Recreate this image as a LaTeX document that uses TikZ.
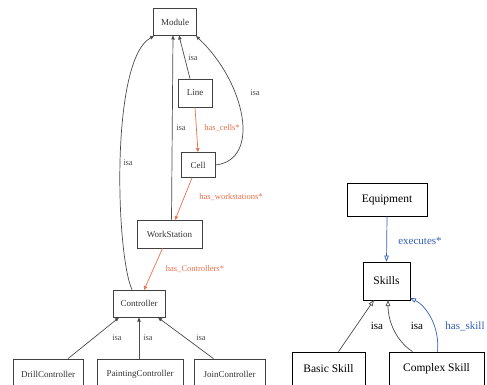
\documentclass[tikz,border=0pt]{standalone}
\usepackage{fontspec}
\setmainfont{Liberation Serif}
\usetikzlibrary{arrows.meta}
\definecolor{relorange}{RGB}{232,112,76}
\definecolor{relblue}{RGB}{52,96,184}
\tikzset{
  cls/.style={draw=black!75, line width=0.7pt, fill=white, inner sep=0pt, font=\fontsize{9}{10}\selectfont, text=black!80},
  bigcls/.style={draw=black, line width=0.7pt, fill=white, inner sep=0pt, font=\fontsize{11.5}{13}\selectfont},
  isaedge/.style={draw=black!70, line width=0.7pt, -{Triangle[length=4pt,width=3.4pt]}},
  hasedge/.style={draw=relorange, line width=0.7pt, -{Triangle[length=4pt,width=3.4pt]}},
  isaopen/.style={draw=black!70, line width=0.7pt, -{Triangle[open,length=6pt,width=4.5pt]}},
  blueedge/.style={draw=relblue, line width=0.7pt, -{Triangle[open,length=6pt,width=4.5pt]}},
  lbl/.style={font=\fontsize{8.5}{10}\selectfont, inner sep=1pt},
  biglbl/.style={font=\fontsize{11}{13}\selectfont, inner sep=1pt},
}
\begin{document}
\begin{tikzpicture}[x=1pt,y=-1pt]
\useasboundingbox (0,0) rectangle (487,385);
\clip (0,0) rectangle (487,385);
\fill[white] (0,0) rectangle (487,385);

% production hierarchy
\node[cls, minimum width=43pt, minimum height=27pt] (module) at (175,22) {Module};
\node[cls, minimum width=34pt, minimum height=28pt] (line) at (195,93) {Line};
\node[cls, minimum width=34pt, minimum height=25pt] (cell) at (198,165) {Cell};
\node[cls, minimum width=65pt, minimum height=28pt] (ws) at (169.5,234) {WorkStation};
\node[cls, minimum width=52pt, minimum height=27pt] (ctrl) at (139,303.5) {Controller};
\node[cls, minimum width=70pt, minimum height=30pt] (drill) at (48,374) {DrillController};
\node[cls, minimum width=86pt, minimum height=30pt] (paint) at (140,374) {PaintingController};
\node[cls, minimum width=71pt, minimum height=30pt] (join) at (229.5,374) {JoinController};

\coordinate (mbl) at (154,36);
\coordinate (mbr) at (196,36);

\draw[isaedge] (line.north) ++(-5,0) coordinate (lt) -- (179,35.5) coordinate (lm);
\draw[isaedge] (cell.east) .. controls (262,160) and (245,82) .. (mbr);
\draw[isaedge] (ws.north) ++(2,0) coordinate (wt) -- (173,35.5) coordinate (wm);
\draw[isaedge] (ctrl.north) ++(-7,0) coordinate (ct) .. controls (116,255) and (110,60) .. (mbl);

\node[lbl, text=black!70] (isa1) at (193,58) {isa};
\node[lbl, text=black!70] (isa2) at (255,93) {isa};
\node[lbl, text=black!70] (isa3) at (181,128) {isa};
\node[lbl, text=black!70] (isa4) at (128,163) {isa};

\draw[hasedge] (line.south) -- (cell.north);
\draw[hasedge] (cell.south) ++(-6,0) coordinate (cs) -- (175,220) coordinate (wn);
\draw[hasedge] (ws.south) ++(-7,0) coordinate (wsb) -- (144,290) coordinate (cn);

\node[lbl, text=relorange] (hc) at (222,128) {has\_cells*};
\node[lbl, text=relorange] (hw) at (231,197) {has\_workstations*};
\node[lbl, text=relorange] (hcn) at (195,269) {has\_Controllers*};

\draw[isaedge] (drill.north) ++(20,0) coordinate (dn) -- (119,317.5) coordinate (c1);
\draw[isaedge] (paint.north) ++(-1,0) coordinate (pn) -- (139,317.5) coordinate (c2);
\draw[isaedge] (join.north) ++(-16,0) coordinate (jn) -- (158,317.5) coordinate (c3);

\node[lbl, text=black!70] (isa5) at (117,338) {isa};
\node[lbl, text=black!70] (isa6) at (148,338) {isa};
\node[lbl, text=black!70] (isa7) at (201,338) {isa};

% skill model
\node[bigcls, minimum width=80pt, minimum height=33pt] (equip) at (387,199.5) {Equipment};
\node[bigcls, minimum width=47pt, minimum height=38pt] (skills) at (386.5,281) {Skills};
\node[bigcls, minimum width=73pt, minimum height=34pt] (basic) at (328.5,369) {Basic Skill};
\node[bigcls, minimum width=95pt, minimum height=34pt] (complex) at (436.5,369) {Complex Skill};

\draw[blueedge] (equip.south) -- (skills.north);
\node[biglbl, text=relblue] (exe) at (420,241) {executes*};

\draw[isaopen] (basic.north) ++(10,0) coordinate (bn) -- (374,300) coordinate (s1);
\draw[isaopen] (complex.north) ++(-24,0) coordinate (cpn) .. controls (395,340) and (388,320) .. (388,300) coordinate (s2);
\draw[blueedge] (complex.north) ++(1,0) coordinate (cpb) .. controls (440,325) and (425,305) .. (410,298) coordinate (s3);

\node[biglbl] (isa8) at (377,326) {isa};
\node[biglbl] (isa9) at (417,326) {isa};
\node[biglbl, text=relblue] (hs) at (465,326) {has\_skill};
\end{tikzpicture}
\end{document}
